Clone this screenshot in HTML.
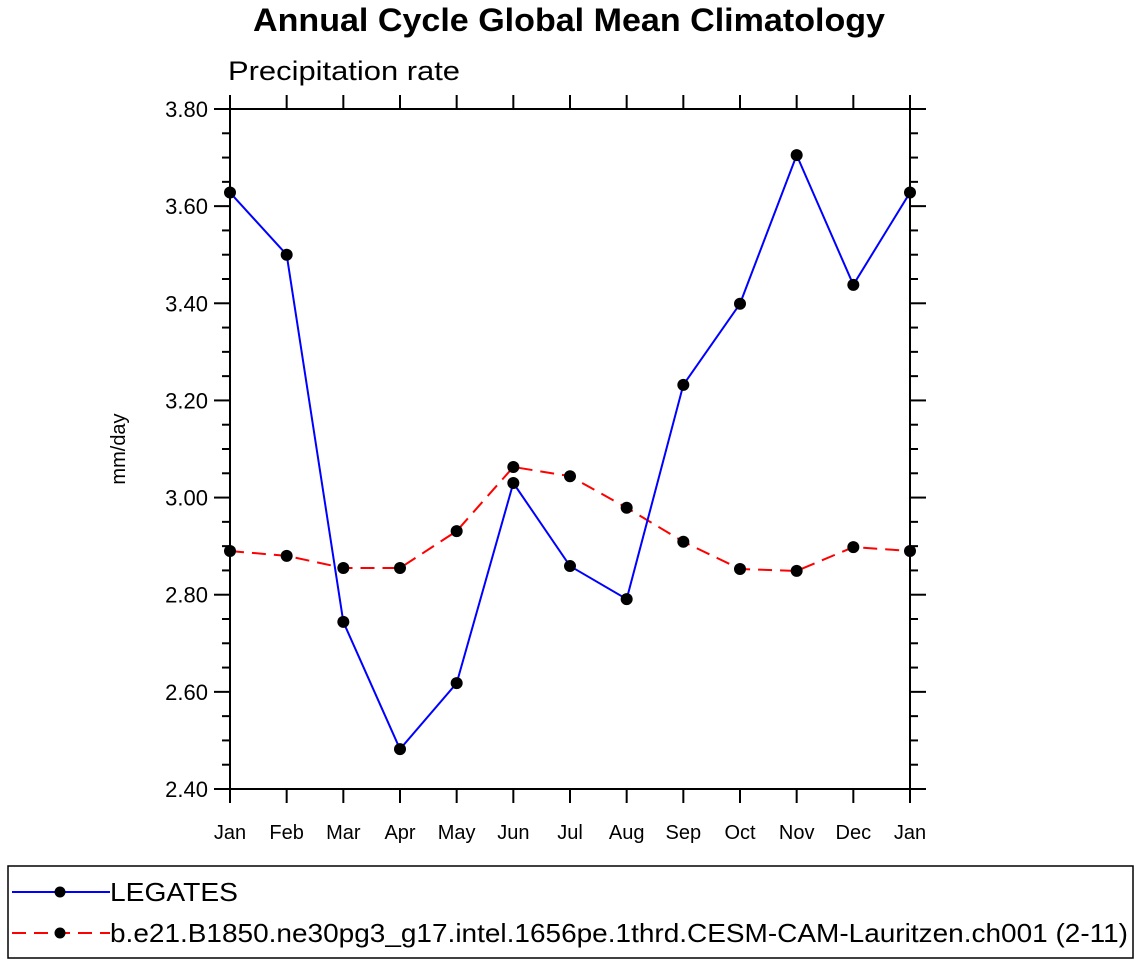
<!DOCTYPE html>
<html><head><meta charset="utf-8"><style>
body{margin:0;background:#fff;}
svg text{font-family:"Liberation Sans",Arial,sans-serif;}
</style></head><body>
<svg id="chart" width="1138" height="964" xmlns="http://www.w3.org/2000/svg">
<text x="253" y="31" font-size="32" font-weight="bold" textLength="632" lengthAdjust="spacingAndGlyphs">Annual Cycle Global Mean Climatology</text>
<text x="228" y="80" font-size="27" textLength="232" lengthAdjust="spacingAndGlyphs">Precipitation rate</text>
<text transform="translate(125,449) rotate(-90)" text-anchor="middle" font-size="20">mm/day</text>
<g id="axes"></g>
<g id="series"></g>
<rect x="8" y="866" width="1125" height="92" fill="none" stroke="#000" stroke-width="1.5"/>
<g>
<line x1="12" y1="892" x2="110" y2="892" stroke="#0000ff" stroke-width="2"/>
<circle cx="60" cy="892" r="5.5" fill="#000"/>
<text x="110" y="901" font-size="26" textLength="128" lengthAdjust="spacingAndGlyphs">LEGATES</text></g>
<g>
<line x1="12" y1="933" x2="110" y2="933" stroke="#ff0000" stroke-width="2" stroke-dasharray="14,8"/>
<circle cx="60" cy="933" r="5.5" fill="#000"/>
<text x="110" y="942" font-size="26" textLength="1018" lengthAdjust="spacingAndGlyphs">b.e21.B1850.ne30pg3_g17.intel.1656pe.1thrd.CESM-CAM-Lauritzen.ch001 (2-11)</text></g>
</svg>
<script>
const months=["Jan","Feb","Mar","Apr","May","Jun","Jul","Aug","Sep","Oct","Nov","Dec","Jan"];
const legates=[3.628,3.50,2.744,2.482,2.618,3.03,2.859,2.791,3.232,3.399,3.705,3.438,3.628];
const model=[2.89,2.88,2.855,2.855,2.931,3.063,3.044,2.979,2.909,2.853,2.849,2.898,2.89];
const yTicks=["2.40","2.60","2.80","3.00","3.20","3.40","3.60","3.80"];
const X0=230,X1=910,Y0=789,Y1=109,ymin=2.4,ymax=3.8;
const xs=i=>X0+(X1-X0)*i/(months.length-1);
const ys=v=>Y0-(v-ymin)/(ymax-ymin)*(Y0-Y1);
const NS="http://www.w3.org/2000/svg";
function mk(t,a,p){const e=document.createElementNS(NS,t);for(const k in a)e.setAttribute(k,a[k]);p.appendChild(e);return e;}
const ax=document.getElementById('axes');
const fr=mk('rect',{x:X0,y:Y1,width:X1-X0,height:Y0-Y1,fill:'none',stroke:'#000','stroke-width':2},ax);


months.forEach((m,i)=>{const x=xs(i);
mk('line',{x1:x,y1:Y0,x2:x,y2:Y0+14,stroke:'#000','stroke-width':2},ax);
mk('line',{x1:x,y1:Y1,x2:x,y2:Y1-14,stroke:'#000','stroke-width':2},ax);
const t=mk('text',{x:x,y:Y0+50,'text-anchor':'middle','font-size':20},ax);t.textContent=m;

});
for(let v=ymin;v<=ymax+1e-9;v+=0.05){const y=ys(v);const maj=Math.abs(Math.round(v*5)-v*5)<1e-6;const L=maj?16:8;
mk('line',{x1:X0,y1:y,x2:X0-L,y2:y,stroke:'#000','stroke-width':2},ax);
mk('line',{x1:X1,y1:y,x2:X1+L,y2:y,stroke:'#000','stroke-width':2},ax);}
yTicks.forEach(s=>{const t=mk('text',{x:X0-22,y:ys(parseFloat(s))+8,'text-anchor':'end','font-size':22},ax);t.textContent=s;

});
const sg=document.getElementById('series');
function draw(data,color,dash,name){
const pl=mk('polyline',{points:data.map((v,i)=>xs(i)+','+ys(v)).join(' '),fill:'none',stroke:color,'stroke-width':2,'stroke-dasharray':dash},sg);


data.forEach((v,i)=>{const c=mk('circle',{cx:xs(i),cy:ys(v),r:6,fill:'#000'},sg);

});}
draw(model,'#ff0000','14,8','model');
draw(legates,'#0000ff','none','legates');
</script>
</body></html>
